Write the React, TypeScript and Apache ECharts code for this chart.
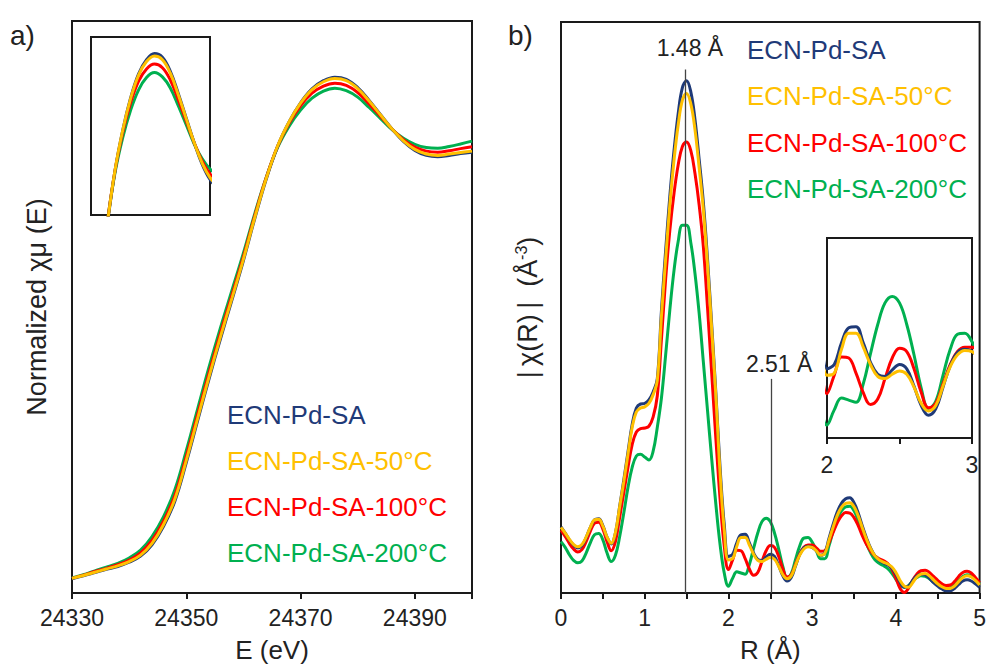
import React, { useEffect, useRef } from "react";
import * as echarts from "echarts";

const FONT = "'Liberation Sans', Arial, sans-serif";

const SERIES_NAMES = ["ECN-Pd-SA", "ECN-Pd-SA-50°C", "ECN-Pd-SA-100°C", "ECN-Pd-SA-200°C"];
const COLORS = ["#1F3A78", "#FFC000", "#FF0000", "#00B050"];
const DRAW_ORDER = [3, 2, 0, 1];

// ---- a) XANES: energy (eV) and normalized absorption ----
const E_OFFSET = 24330;
const XANES_E = [
  24330, 24332, 24334, 24336, 24338, 24340, 24342, 24344, 24346, 24348, 24350, 24352,
  24354, 24356, 24358, 24360, 24362, 24364, 24366, 24368, 24370, 24372, 24374, 24376,
  24378, 24380, 24382, 24384, 24386, 24388, 24390, 24392, 24394, 24396, 24398, 24400,
];
const XANES_SA = [
  0.040, 0.048, 0.057, 0.066, 0.074, 0.086, 0.103, 0.135, 0.186, 0.257, 0.365, 0.483,
  0.600, 0.712, 0.820, 0.930, 1.048, 1.158, 1.250, 1.318, 1.371, 1.410, 1.433, 1.443,
  1.437, 1.414, 1.378, 1.338, 1.298, 1.263, 1.238, 1.224, 1.220, 1.224, 1.229, 1.233,
];
const XANES_50 = [
  0.041, 0.049, 0.058, 0.067, 0.076, 0.088, 0.106, 0.139, 0.191, 0.263, 0.371, 0.489,
  0.606, 0.718, 0.825, 0.934, 1.051, 1.160, 1.251, 1.318, 1.370, 1.408, 1.430, 1.439,
  1.433, 1.411, 1.376, 1.337, 1.298, 1.265, 1.241, 1.228, 1.224, 1.228, 1.232, 1.236,
];
const XANES_100 = [
  0.041, 0.050, 0.060, 0.069, 0.079, 0.092, 0.112, 0.147, 0.200, 0.273, 0.382, 0.500,
  0.617, 0.728, 0.834, 0.941, 1.056, 1.162, 1.250, 1.314, 1.363, 1.398, 1.418, 1.426,
  1.420, 1.400, 1.368, 1.333, 1.298, 1.268, 1.247, 1.236, 1.233, 1.237, 1.243, 1.248,
];
const XANES_200 = [
  0.042, 0.051, 0.062, 0.072, 0.083, 0.098, 0.120, 0.158, 0.213, 0.289, 0.398, 0.516,
  0.633, 0.743, 0.847, 0.951, 1.062, 1.163, 1.247, 1.306, 1.351, 1.384, 1.404, 1.412,
  1.405, 1.387, 1.358, 1.327, 1.296, 1.272, 1.255, 1.246, 1.244, 1.249, 1.256, 1.264,
];
const E_TICKS = [24330, 24350, 24370, 24390];

// ---- b) FT-EXAFS: R (Å) and |χ(R)| ----
const R = [
  0, 0.05, 0.1, 0.15, 0.2, 0.25, 0.3, 0.35, 0.4, 0.45,
  0.5, 0.55, 0.6, 0.65, 0.7, 0.75, 0.8, 0.85, 0.9, 0.95,
  1, 1.05, 1.1, 1.15, 1.2, 1.25, 1.3, 1.35, 1.4, 1.45,
  1.5, 1.55, 1.6, 1.65, 1.7, 1.75, 1.8, 1.85, 1.9, 1.95,
  2, 2.05, 2.1, 2.15, 2.2, 2.25, 2.3, 2.35, 2.4, 2.45,
  2.5, 2.55, 2.6, 2.65, 2.7, 2.75, 2.8, 2.85, 2.9, 2.95,
  3, 3.05, 3.1, 3.15, 3.2, 3.25, 3.3, 3.35, 3.4, 3.45,
  3.5, 3.55, 3.6, 3.65, 3.7, 3.75, 3.8, 3.85, 3.9, 3.95,
  4, 4.05, 4.1, 4.15, 4.2, 4.25, 4.3, 4.35, 4.4, 4.45,
  4.5, 4.55, 4.6, 4.65, 4.7, 4.75, 4.8, 4.85, 4.9, 4.95,
  5,
];
const FT_SA = [
  1.16, 1.05, 0.93, 0.84, 0.79, 0.83, 0.97, 1.15, 1.28, 1.30,
  1.18, 0.98, 0.86, 1.05, 1.51, 1.98, 2.47, 2.95, 3.24, 3.31,
  3.32, 3.38, 3.52, 3.75, 4.95, 6.00, 6.95, 7.75, 8.40, 8.85,
  8.97, 8.78, 8.30, 7.60, 6.85, 5.85, 4.70, 3.50, 2.20, 1.20,
  0.64, 0.68, 0.88, 1.02, 1.03, 0.88, 0.70, 0.59, 0.57, 0.63,
  0.68, 0.64, 0.48, 0.30, 0.21, 0.27, 0.47, 0.67, 0.79, 0.82,
  0.80, 0.74, 0.66, 0.70, 0.95, 1.20, 1.42, 1.57, 1.65, 1.67,
  1.58, 1.40, 1.17, 0.96, 0.78, 0.65, 0.57, 0.53, 0.49, 0.44,
  0.33, 0.19, 0.10, 0.12, 0.22, 0.30, 0.33, 0.32, 0.26, 0.18,
  0.12, 0.07, 0.04, 0.04, 0.08, 0.15, 0.21, 0.23, 0.21, 0.16,
  0.10,
];
const FT_50 = [
  1.15, 1.05, 0.94, 0.85, 0.81, 0.85, 0.98, 1.15, 1.28, 1.29,
  1.17, 0.98, 0.87, 1.06, 1.50, 1.95, 2.43, 2.90, 3.17, 3.24,
  3.26, 3.32, 3.47, 3.72, 4.85, 5.85, 6.80, 7.58, 8.20, 8.63,
  8.75, 8.57, 8.12, 7.45, 6.72, 5.75, 4.62, 3.45, 2.10, 1.10,
  0.58, 0.60, 0.82, 0.97, 0.97, 0.84, 0.68, 0.57, 0.55, 0.59,
  0.62, 0.59, 0.47, 0.32, 0.25, 0.30, 0.48, 0.66, 0.77, 0.81,
  0.80, 0.74, 0.66, 0.69, 0.92, 1.15, 1.36, 1.50, 1.57, 1.58,
  1.51, 1.35, 1.14, 0.94, 0.77, 0.65, 0.58, 0.54, 0.51, 0.46,
  0.36, 0.22, 0.12, 0.10, 0.18, 0.28, 0.33, 0.34, 0.30, 0.23,
  0.16, 0.11, 0.08, 0.08, 0.12, 0.20, 0.27, 0.30, 0.28, 0.22,
  0.14,
];
const FT_100 = [
  1.10, 0.99, 0.87, 0.77, 0.72, 0.76, 0.90, 1.08, 1.22, 1.24,
  1.12, 0.90, 0.74, 0.90, 1.32, 1.76, 2.20, 2.60, 2.82, 2.88,
  2.89, 2.92, 3.08, 3.45, 4.45, 5.50, 6.35, 7.00, 7.50, 7.82,
  7.90, 7.75, 7.35, 6.80, 6.07, 5.00, 3.85, 2.70, 1.65, 0.82,
  0.41, 0.58, 0.75, 0.74, 0.60, 0.42, 0.31, 0.36, 0.55, 0.74,
  0.83, 0.80, 0.64, 0.42, 0.28, 0.32, 0.50, 0.68, 0.80, 0.84,
  0.84, 0.79, 0.73, 0.74, 0.88, 1.06, 1.23, 1.35, 1.41, 1.40,
  1.32, 1.18, 1.00, 0.85, 0.73, 0.65, 0.60, 0.57, 0.52, 0.42,
  0.26, 0.08, 0.01, 0.08, 0.22, 0.33, 0.39, 0.40, 0.36, 0.29,
  0.22, 0.16, 0.13, 0.14, 0.20, 0.29, 0.36, 0.38, 0.35, 0.27,
  0.18,
];
const FT_200 = [
  0.90, 0.80, 0.67, 0.57, 0.53, 0.56, 0.70, 0.88, 1.02, 1.04,
  0.93, 0.70, 0.55, 0.66, 0.98, 1.40, 1.85, 2.20, 2.40, 2.43,
  2.38, 2.33, 2.48, 2.90, 3.42, 4.17, 4.96, 5.65, 6.16, 6.44,
  6.44, 6.14, 5.60, 4.90, 4.05, 3.20, 2.35, 1.55, 0.85, 0.35,
  0.12, 0.26, 0.37, 0.35, 0.33, 0.50, 0.78, 1.05, 1.25, 1.31,
  1.25, 1.05, 0.77, 0.46, 0.27, 0.34, 0.58, 0.82, 0.96, 0.97,
  0.89, 0.74, 0.60, 0.60, 0.82, 1.08, 1.30, 1.44, 1.51, 1.52,
  1.44, 1.27, 1.06, 0.86, 0.70, 0.58, 0.52, 0.48, 0.43, 0.35,
  0.24, 0.14, 0.10, 0.13, 0.21, 0.27, 0.30, 0.29, 0.25, 0.19,
  0.14, 0.10, 0.08, 0.09, 0.15, 0.22, 0.29, 0.32, 0.30, 0.24,
  0.16,
];
const PEAK_MARKS = [
  { r: 1.48, top: 9.17, label: "1.48 Å" },
  { r: 2.51, top: 3.75, label: "2.51 Å" },
];

const XANES_SETS = [XANES_SA, XANES_50, XANES_100, XANES_200];
const FT_SETS = [FT_SA, FT_50, FT_100, FT_200];

const INK = "#1a1a1a";
const TXT = "#222";

function buildOption() {
  const grids = [
    { left: 72, top: 21, width: 400, height: 572 },
    { left: 91, top: 37, width: 119, height: 178, backgroundColor: "#fff" },
    { left: 561, top: 22, width: 423, height: 571 },
    { left: 827, top: 238, width: 145, height: 200, backgroundColor: "#fff" },
  ].map((g) => ({ show: true, borderColor: INK, borderWidth: 2, containLabel: false, ...g }));

  const tickStyle = { color: INK, width: 2 };
  const labelStyle = { fontSize: 23, color: TXT, fontFamily: FONT, margin: 13 };
  const nameStyle = { fontSize: 26, color: TXT, fontFamily: FONT };

  const xAxis: any[] = [
    {
      gridIndex: 0, type: "value", min: 0, max: 70, interval: 20,
      axisLine: { show: false }, splitLine: { show: false },
      axisTick: { show: true, length: 6, lineStyle: tickStyle },
      axisLabel: { ...labelStyle, formatter: (v: number) => (E_TICKS.includes(v + E_OFFSET) ? String(v + E_OFFSET) : "") },
      name: "E (eV)", nameLocation: "middle", nameGap: 44, nameTextStyle: nameStyle,
    },
    { gridIndex: 1, type: "value", min: 24360 - E_OFFSET, max: 24390 - E_OFFSET, show: false },
    {
      gridIndex: 2, type: "value", min: 0, max: 5, interval: 1,
      axisLine: { show: false }, splitLine: { show: false },
      axisTick: { show: true, length: 6, lineStyle: tickStyle },
      minorTick: { show: true, splitNumber: 2, length: 6, lineStyle: tickStyle },
      axisLabel: { ...labelStyle },
      name: "R (Å)", nameLocation: "middle", nameGap: 44, nameTextStyle: nameStyle,
    },
    {
      gridIndex: 3, type: "value", min: 2, max: 3, interval: 0.5,
      axisLine: { show: false }, splitLine: { show: false },
      axisTick: { show: true, length: 6, lineStyle: tickStyle },
      axisLabel: { ...labelStyle, margin: 15, formatter: (v: number) => (v === 2 || v === 3 ? String(v) : "") },
    },
  ];

  const hiddenY = {
    axisLine: { show: false }, axisTick: { show: false }, axisLabel: { show: false }, splitLine: { show: false },
  };
  const yAxis: any[] = [
    {
      gridIndex: 0, type: "value", min: 0, max: 1.6, ...hiddenY,
      name: "Normalized χμ (E)", nameLocation: "middle", nameGap: 22, nameRotate: 90,
      nameTextStyle: { ...nameStyle, fontSize: 27 },
    },
    { gridIndex: 1, type: "value", min: 1.18, max: 1.47, show: false },
    {
      gridIndex: 2, type: "value", min: 0, max: 10, ...hiddenY,
      name: "|\u2009χ(R)\u2009|  (Å{s|-3})", nameLocation: "middle", nameGap: 18, nameRotate: 90,
      nameTextStyle: {
        ...nameStyle,
        fontSize: 27,
        rich: { s: { fontSize: 16, color: TXT, fontFamily: FONT, verticalAlign: "top", lineHeight: 30 } },
      },
    },
    { gridIndex: 3, type: "value", min: 0, max: 1.85, show: false },
  ];

  const series: any[] = [];
  const lineBase = { type: "line", showSymbol: false, symbol: "none", smooth: 0.4, clip: true, silent: true };
  for (const i of DRAW_ORDER) {
    const xanes = XANES_E.map((e, k) => [e - E_OFFSET, XANES_SETS[i][k]]);
    const ft = R.map((r, k) => [r, FT_SETS[i][k]]);
    series.push({ ...lineBase, name: SERIES_NAMES[i], xAxisIndex: 0, yAxisIndex: 0, data: xanes, lineStyle: { color: COLORS[i], width: 3 } });
    series.push({ ...lineBase, name: SERIES_NAMES[i], xAxisIndex: 1, yAxisIndex: 1, data: xanes, lineStyle: { color: COLORS[i], width: 3 } });
    const main: any = { ...lineBase, name: SERIES_NAMES[i], xAxisIndex: 2, yAxisIndex: 2, data: ft, lineStyle: { color: COLORS[i], width: 3 } };
    if (i === 0 || i === 1) {
      const m = PEAK_MARKS[i];
      main.markLine = {
        silent: true, symbol: "none", animation: false,
        lineStyle: { color: "#444", width: 1.3, type: "solid" },
        label: {
          show: true, position: "end", formatter: m.label, fontSize: 23, color: TXT, fontFamily: FONT,
          distance: i === 0 ? 10 : 3, padding: i === 0 ? [0, 0, 0, 10] : [0, 0, 0, 16],
        },
        data: [[{ coord: [m.r, 0] }, { coord: [m.r, m.top] }]],
      };
    }
    series.push(main);
    series.push({ ...lineBase, name: SERIES_NAMES[i], xAxisIndex: 3, yAxisIndex: 3, data: ft, lineStyle: { color: COLORS[i], width: 3 } });
  }

  const legendText = (x: number, y0: number, gap: number) =>
    SERIES_NAMES.map((n, i) => ({
      type: "text", x, y: y0 + i * gap, silent: true,
      style: { text: n, fill: COLORS[i], fontSize: 26, fontFamily: FONT, verticalAlign: "middle", align: "left" },
    }));

  const graphic = [
    { type: "text", x: 10, y: 35, style: { text: "a)", fill: TXT, fontSize: 28, fontFamily: FONT, verticalAlign: "middle" } },
    { type: "text", x: 508, y: 35, style: { text: "b)", fill: TXT, fontSize: 28, fontFamily: FONT, verticalAlign: "middle" } },
    ...legendText(227, 415, 46),
    ...legendText(747, 50, 46.3),
  ];

  return {
    animation: false,
    backgroundColor: "#fff",
    textStyle: { fontFamily: FONT },
    grid: grids,
    xAxis,
    yAxis,
    series,
    graphic,
  };
}

export default function App() {
  const ref = useRef<HTMLDivElement>(null);
  useEffect(() => {
    if (!ref.current) return;
    const chart = echarts.init(ref.current, undefined, { renderer: "svg" });
    chart.setOption(buildOption() as any);
    return () => chart.dispose();
  }, []);
  return (
    <div
      ref={ref}
      style={{ position: "fixed", left: 0, top: 0, width: 989, height: 669, background: "#fff" }}
    />
  );
}
